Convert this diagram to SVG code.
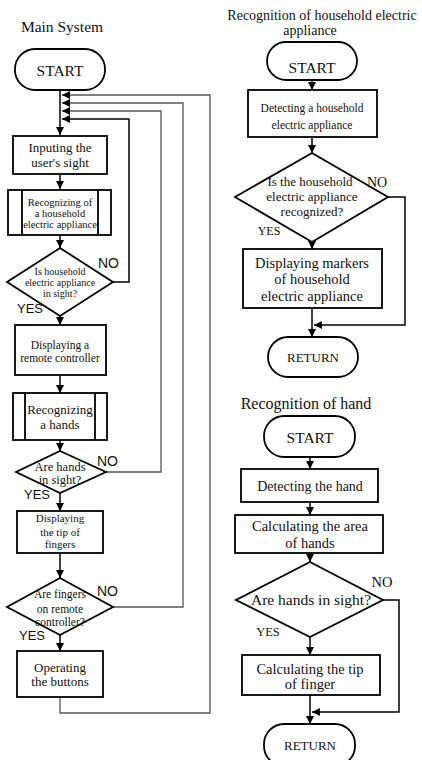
<svg xmlns="http://www.w3.org/2000/svg" width="422" height="760" viewBox="0 0 422 760">
<defs>
<marker id="ah" markerUnits="userSpaceOnUse" markerWidth="9" markerHeight="9" refX="8" refY="4" orient="auto">
<path d="M0,0 L8,4 L0,8 z" fill="#000"/>
</marker>
</defs>
<style>
.n{fill:#fff;stroke:#000;stroke-width:1.8}
.t{font-family:"Liberation Serif","Times New Roman",serif;fill:#111;text-anchor:middle}
.s{font-family:"Liberation Sans",Arial,sans-serif;fill:#111}
.c{fill:none;stroke:#000;stroke-width:1.5}
.f{fill:none;stroke:#555;stroke-width:1.3}
</style>
<rect width="422" height="760" fill="#fff"/>
<text class="t" x="62" y="32" font-size="15.5">Main System</text>
<text class="t" x="322" y="20" font-size="14">Recognition of household electric</text>
<text class="t" x="310" y="35" font-size="14">appliance</text>
<text class="t" x="306" y="409" font-size="16">Recognition of hand</text>

<g id="connectors">
<line class="c" x1="60" y1="90" x2="60" y2="135" marker-end="url(#ah)"/>
<line class="c" x1="60" y1="174" x2="60" y2="189" marker-end="url(#ah)"/>
<line class="c" x1="60" y1="235" x2="60" y2="248" marker-end="url(#ah)"/>
<line class="c" x1="60" y1="316" x2="60" y2="325" marker-end="url(#ah)"/>
<line class="c" x1="60" y1="375" x2="60" y2="393" marker-end="url(#ah)"/>
<line class="c" x1="60" y1="440" x2="60" y2="451" marker-end="url(#ah)"/>
<line class="c" x1="60" y1="493" x2="60" y2="511" marker-end="url(#ah)"/>
<line class="c" x1="60" y1="553" x2="60" y2="578" marker-end="url(#ah)"/>
<line class="c" x1="60" y1="635" x2="60" y2="651" marker-end="url(#ah)"/>
<polyline class="f" points="60,697 60,713 210,713 210,95 62,95" marker-end="url(#ah)"/>
<polyline class="f" points="113,607 183,607 183,103 62,103" marker-end="url(#ah)"/>
<polyline class="f" points="106,472 161,472 161,111 62,111" marker-end="url(#ah)"/>
<polyline class="c" points="113,282 129,282 129,119 62,119" marker-end="url(#ah)"/>

<line class="c" x1="312" y1="80" x2="312" y2="90" marker-end="url(#ah)"/>
<line class="c" x1="312" y1="137" x2="312" y2="153" marker-end="url(#ah)"/>
<line class="c" x1="312" y1="242" x2="312" y2="249" marker-end="url(#ah)"/>
<line class="c" x1="312" y1="308" x2="312" y2="337" marker-end="url(#ah)"/>
<polyline class="c" points="388,197 405,197 405,325 314,325" marker-end="url(#ah)"/>

<line class="c" x1="310" y1="457" x2="310" y2="469" marker-end="url(#ah)"/>
<line class="c" x1="310" y1="502" x2="310" y2="515" marker-end="url(#ah)"/>
<line class="c" x1="310" y1="553" x2="310" y2="562" marker-end="url(#ah)"/>
<line class="c" x1="310" y1="637" x2="310" y2="655" marker-end="url(#ah)"/>
<line class="c" x1="310" y1="695" x2="310" y2="724" marker-end="url(#ah)"/>
<polyline class="c" points="383,600 399,600 399,712 312,712" marker-end="url(#ah)"/>
</g>

<g id="m-start">
<rect class="n" x="15" y="49" width="90" height="41" rx="20"/>
<text class="t" x="60" y="76" font-size="15.5">START</text>
</g>
<g id="m-input">
<rect class="n" x="13" y="136" width="94" height="38"/>
<text class="t" x="60" y="152" font-size="13">Inputing the</text>
<text class="t" x="60" y="167" font-size="13">user's sight</text>
</g>
<g id="m-recog-app">
<rect class="n" x="8" y="190" width="103" height="45"/>
<line class="n" x1="22" y1="190" x2="22" y2="235"/>
<line class="n" x1="98" y1="190" x2="98" y2="235"/>
<text class="t" x="60" y="205.5" font-size="10.5">Recognizing of</text>
<text class="t" x="60" y="216.5" font-size="10.5">a household</text>
<text class="t" x="60" y="227.5" font-size="10.5">electric appliance</text>
</g>
<g id="m-dec-app">
<polygon class="n" points="60,248 113,282 60,316 7,282"/>
<text class="t" x="60" y="274.5" font-size="10">Is household</text>
<text class="t" x="60" y="285.5" font-size="10">electric appliance</text>
<text class="t" x="60" y="297" font-size="10">in sight?</text>
<text class="s" x="98" y="268" font-size="14">NO</text>
<text class="s" x="17" y="313" font-size="13">YES</text>
</g>
<g id="m-display-rc">
<rect class="n" x="15" y="325" width="91" height="50"/>
<text class="t" x="60" y="349" font-size="11.5">Displaying  a</text>
<text class="t" x="60" y="362" font-size="11.5">remote controller</text>
</g>
<g id="m-recog-hands">
<rect class="n" x="13" y="393" width="94" height="47"/>
<line class="n" x1="25" y1="393" x2="25" y2="440"/>
<line class="n" x1="95" y1="393" x2="95" y2="440"/>
<text class="t" x="60" y="414" font-size="13">Recognizing</text>
<text class="t" x="60" y="429" font-size="13">a hands</text>
</g>
<g id="m-dec-hands">
<polygon class="n" points="60,451 106,472 60,493 16,472"/>
<text class="t" x="60" y="471" font-size="12.5">Are hands</text>
<text class="t" x="60" y="484" font-size="12.5">in sight?</text>
<text class="s" x="97" y="466" font-size="14">NO</text>
<text class="s" x="24" y="499" font-size="13">YES</text>
</g>
<g id="m-display-tip">
<rect class="n" x="17" y="511" width="86" height="42"/>
<text class="t" x="60" y="522" font-size="11">Displaying</text>
<text class="t" x="60" y="536" font-size="11">the tip of</text>
<text class="t" x="60" y="548" font-size="11">fingers</text>
</g>
<g id="m-dec-fingers">
<polygon class="n" points="60,578 113,607 60,635 7,607"/>
<text class="t" x="60" y="598" font-size="11.5">Are fingers</text>
<text class="t" x="60" y="613" font-size="11.5">on remote</text>
<text class="t" x="60" y="626" font-size="11.5">controller?</text>
<text class="s" x="97" y="596" font-size="14">NO</text>
<text class="s" x="19" y="640" font-size="13">YES</text>
</g>
<g id="m-operate">
<rect class="n" x="17" y="651" width="86" height="46"/>
<text class="t" x="60" y="672" font-size="13">Operating</text>
<text class="t" x="60" y="686" font-size="13">the buttons</text>
</g>

<g id="a-start">
<rect class="n" x="267" y="42" width="90" height="38" rx="19"/>
<text class="t" x="312" y="73" font-size="15.5">START</text>
</g>
<g id="a-detect">
<rect class="n" x="248" y="90" width="129" height="47"/>
<text class="t" x="312" y="112" font-size="11.5">Detecting a household</text>
<text class="t" x="312" y="129" font-size="11.5">electric appliance</text>
</g>
<g id="a-dec">
<polygon class="n" points="312,153 388,197 312,242 235,197"/>
<text class="t" x="310" y="186" font-size="13">Is the household</text>
<text class="t" x="312" y="201" font-size="13">electric appliance</text>
<text class="t" x="312" y="216" font-size="13">recognized?</text>
<text class="t" x="377" y="187" font-size="14">NO</text>
<text class="t" x="269" y="235" font-size="12">YES</text>
</g>
<g id="a-display">
<rect class="n" x="243" y="249" width="139" height="59"/>
<text class="t" x="312" y="268" font-size="14.5">Displaying  markers</text>
<text class="t" x="312" y="284" font-size="14.5">of  household</text>
<text class="t" x="312" y="301" font-size="14.5">electric  appliance</text>
</g>
<g id="a-return">
<rect class="n" x="268" y="337" width="90" height="40" rx="20"/>
<text class="t" x="313" y="362" font-size="13">RETURN</text>
</g>

<g id="h-start">
<rect class="n" x="264" y="416" width="91" height="41" rx="20"/>
<text class="t" x="310" y="443" font-size="15.5">START</text>
</g>
<g id="h-detect">
<rect class="n" x="241" y="469" width="137" height="33"/>
<text class="t" x="310" y="491" font-size="14">Detecting  the hand</text>
</g>
<g id="h-area">
<rect class="n" x="235" y="515" width="148" height="38"/>
<text class="t" x="310" y="531" font-size="14.5">Calculating  the  area</text>
<text class="t" x="310" y="548" font-size="14.5">of hands</text>
</g>
<g id="h-dec">
<polygon class="n" points="310,562 383,600 310,637 236,600"/>
<text class="t" x="311" y="605" font-size="15.5">Are hands  in sight?</text>
<text class="t" x="382" y="587" font-size="14.5">NO</text>
<text class="t" x="268" y="636" font-size="12.5">YES</text>
</g>
<g id="h-tip">
<rect class="n" x="242" y="655" width="138" height="40"/>
<text class="t" x="310" y="674" font-size="14.5">Calculating  the tip</text>
<text class="t" x="310" y="689" font-size="14.5">of finger</text>
</g>
<g id="h-return">
<rect class="n" x="264" y="724" width="91" height="42" rx="20"/>
<text class="t" x="310" y="750" font-size="13">RETURN</text>
</g>
</svg>
